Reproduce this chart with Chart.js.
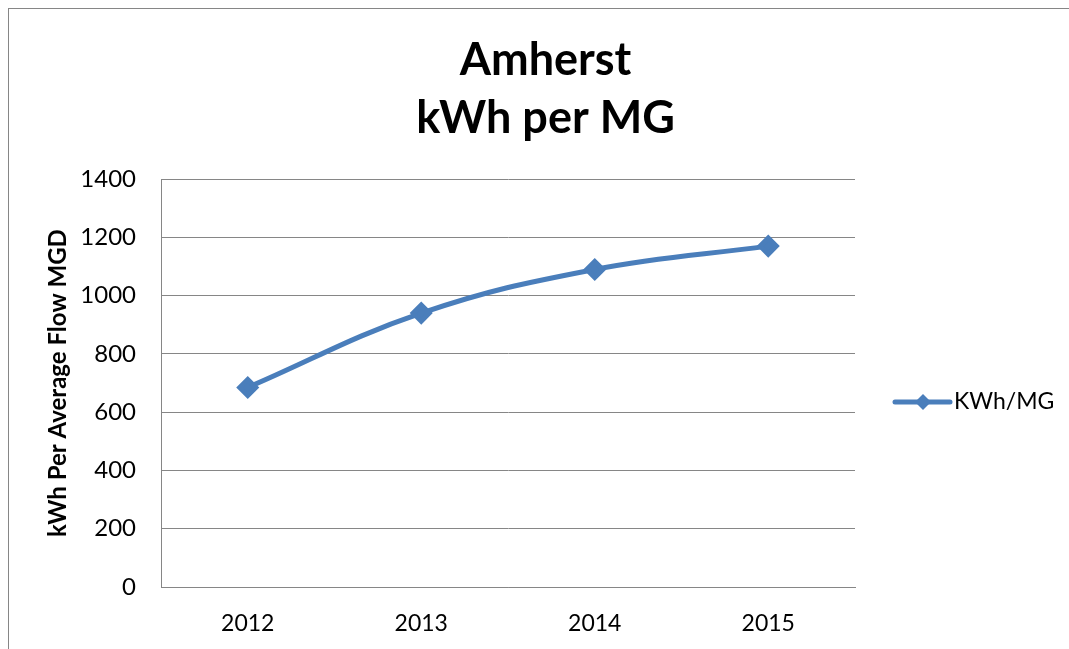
<!DOCTYPE html>
<html>
<head>
<meta charset="utf-8">
<script src="https://cdn.jsdelivr.net/npm/chart.js@4"></script>
<style>
  html, body { margin: 0; padding: 0; background: #fff; overflow: hidden; }
  #wrap { position: relative; width: 1069px; height: 649px; }
  #frame { position: absolute; left: 8px; top: 8px; width: 1100px; height: 700px; border: 1px solid #868686; box-sizing: border-box; }
  canvas { position: absolute; left: 0; top: 0; }
</style>
</head>
<body>
<div id="wrap">
  <div id="frame"></div>
  <canvas id="grafico" width="1069" height="649"></canvas>
</div>
<script>
// dados
var anos = ['2012', '2013', '2014', '2015'];
var kwhPorMG = [685, 940, 1090, 1170];
var tituloLinhas = ['Amherst', 'kWh per MG'];
var serieNome = 'KWh/MG';
var eixoY = 'kWh Per Average Flow MGD';

var azul = '#4a7ebb';
var cinza = '#868686';
var fonte = 'Lato, "Open Sans", sans-serif';

// legenda desenhada a mao (linha + losango, igual ao excel)
var legendaExcel = {
    id: 'legendaExcel',
    afterDraw: function (chart) {
        var c = chart.ctx;
        var ds = chart.data.datasets[0];
        var x0 = chart.chartArea.right + 40;
        var y0 = 402;
        c.save();
        c.strokeStyle = ds.borderColor;
        c.lineWidth = ds.borderWidth;
        c.lineCap = 'round';
        c.beginPath();
        c.moveTo(x0, y0);
        c.lineTo(x0 + 55, y0);
        c.stroke();
        c.fillStyle = ds.pointBackgroundColor;
        c.beginPath();
        c.moveTo(x0 + 28, y0 - 8);
        c.lineTo(x0 + 36, y0);
        c.lineTo(x0 + 28, y0 + 8);
        c.lineTo(x0 + 20, y0);
        c.closePath();
        c.fill();
        c.fillStyle = '#000';
        c.font = '23px ' + fonte;
        c.textBaseline = 'middle';
        c.fillText(ds.label, x0 + 59, y0);
        c.restore();
    }
};

var ctx = document.getElementById('grafico').getContext('2d');
var grafico = new Chart(ctx, {
    type: 'line',
    data: {
        labels: anos,
        datasets: [{
            label: serieNome,
            data: kwhPorMG,
            borderColor: azul,
            borderWidth: 5,
            backgroundColor: azul,
            pointBackgroundColor: azul,
            pointBorderColor: azul,
            pointStyle: 'rectRot',
            pointRadius: 8,
            pointHoverRadius: 8,
            tension: 0.4,
            fill: false
        }]
    },
    plugins: [legendaExcel],
    options: {
        responsive: false,
        animation: false,
        devicePixelRatio: 1,
        layout: {
            padding: { left: 22, right: 0, top: 0, bottom: 0 }
        },
        plugins: {
            legend: { display: false },
            tooltip: { enabled: false },
            title: {
                display: true,
                text: tituloLinhas,
                color: '#000',
                font: { family: fonte, size: 45, weight: 'bold', lineHeight: 1.29 },
                padding: { top: 31, bottom: 32 }
            }
        },
        scales: {
            x: {
                offset: true,
                grid: { display: false, drawTicks: false },
                border: { display: true, color: cinza, width: 1 },
                ticks: {
                    color: '#000',
                    padding: 23,
                    font: { family: fonte, size: 23 }
                },
                afterFit: function (scale) { scale.height = 62; }
            },
            y: {
                min: 0,
                max: 1400,
                ticks: {
                    stepSize: 200,
                    color: '#000',
                    padding: 25,
                    font: { family: fonte, size: 24 },
                    callback: function (value) { return String(value); } // sem separador de milhar
                },
                grid: { color: cinza, lineWidth: 1, drawTicks: false },
                border: { display: true, color: cinza, width: 1 },
                title: {
                    display: true,
                    text: eixoY,
                    color: '#000',
                    padding: { top: 22, bottom: 0 },
                    font: { family: fonte, size: 24, weight: 'bold', lineHeight: 1.2 }
                },
                afterFit: function (scale) { scale.width = 161 - 22; }
            },
            // eixo fantasma so para reservar o espaco da legenda
            yLegenda: {
                position: 'right',
                display: true,
                grid: { display: false, drawTicks: false },
                border: { display: false },
                ticks: { display: false },
                afterFit: function (scale) { scale.width = 1069 - 855; }
            }
        }
    }
});
</script>
</body>
</html>
